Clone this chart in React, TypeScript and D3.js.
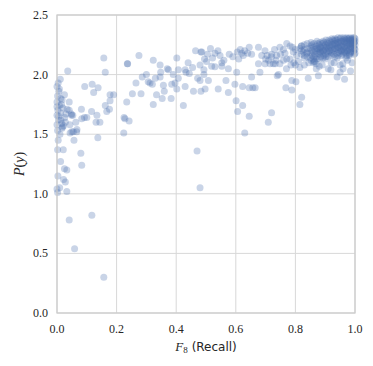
import React from "react";
import * as d3 from "d3";

const xTicks = [0, 0.2, 0.4, 0.6, 0.8, 1.0];
const yTicks = [0, 0.5, 1.0, 1.5, 2.0, 2.5];

const outlierPts: [number, number][] = [
  [0.157, 0.30], [0.059, 0.54], [0.041, 0.78], [0.117, 0.82], [0.47, 1.36], [0.48, 1.05], [0.63, 1.51],
];

const leftPts: [number, number][] = [
  [0.137, 1.47], [0.057, 1.45], [0.08, 1.34], [0.083, 1.24], [0.021, 1.37], [0.002, 1.37], [0.012, 1.27],
  [0.025, 1.21], [0.033, 1.20], [0.003, 1.15], [0.022, 1.12], [0.028, 1.10], [0.009, 1.05], [0.033, 1.02],
  [0.002, 1.01], [0.224, 1.51], [0.242, 1.61], [0.225, 1.64],
  [0.093, 1.90], [0.118, 1.92], [0.138, 1.89], [0.123, 1.85], [0.178, 1.83], [0.19, 1.83], [0.162, 1.74],
  [0.178, 1.78], [0.176, 1.71], [0.167, 1.69], [0.134, 1.66], [0.144, 1.60], [0.131, 1.60], [0.116, 1.69],
  [0.10, 1.64], [0.083, 1.63], [0.092, 1.64], [0.082, 1.71], [0.063, 1.60], [0.041, 1.70], [0.049, 1.66],
  [0.053, 1.66], [0.066, 1.52], [0.055, 1.52], [0.044, 1.51], [0.018, 1.56], [0.016, 1.59],
  [0.157, 2.14], [0.162, 2.02], [0.036, 2.03], [0.236, 2.09], [0.011, 1.96], [0.004, 1.93], [0.025, 1.83],
  [0.006, 1.86], [0.041, 1.77], [0.017, 1.79], [0.034, 1.71], [0.048, 1.67], [0.012, 1.68], [0.008, 1.74],
  [0.002, 1.82], [0.026, 1.64], [0.017, 1.55], [0.043, 1.58], [0.022, 1.57], [0.05, 1.52], [0.067, 1.54],
  [0.006, 1.65], [0.0, 1.73], [0.003, 1.70], [0.005, 1.62], [0.0, 1.58], [0.01, 1.50], [0.004, 1.45],
  [0.0, 1.90], [0.008, 1.88], [0.0, 1.77], [0.015, 1.75], [0.02, 1.72], [0.013, 1.62], [0.028, 1.60],
  [0.03, 1.67], [0.002, 1.53], [0.012, 1.80], [0.0, 1.66], [0.0, 1.04],
];

const midPts: [number, number][] = [
  [0.275, 2.16], [0.237, 2.09], [0.323, 2.12], [0.346, 2.08], [0.402, 2.14], [0.465, 2.20], [0.483, 2.19],
  [0.48, 2.08], [0.43, 2.04], [0.407, 2.04], [0.374, 2.04], [0.348, 2.02], [0.433, 2.02], [0.444, 2.01],
  [0.472, 1.97], [0.493, 2.00], [0.407, 1.97], [0.286, 1.98], [0.306, 1.94], [0.312, 1.93], [0.32, 1.92],
  [0.346, 1.98], [0.357, 1.91], [0.385, 1.92], [0.396, 1.93], [0.402, 1.88], [0.458, 1.86], [0.483, 1.86],
  [0.253, 1.84], [0.282, 1.84], [0.334, 1.83], [0.353, 1.80], [0.383, 1.80], [0.323, 1.75], [0.424, 1.74],
  [0.234, 1.77], [0.228, 1.63],
  [0.645, 2.23], [0.676, 2.23], [0.698, 2.20], [0.72, 2.17], [0.62, 2.18], [0.625, 2.16], [0.653, 2.17],
  [0.687, 2.16], [0.578, 2.17], [0.59, 2.15], [0.53, 2.18], [0.547, 2.16], [0.522, 2.14], [0.486, 2.19],
  [0.502, 2.11], [0.553, 2.10], [0.519, 2.07], [0.53, 2.065], [0.553, 2.07], [0.575, 2.05], [0.493, 2.04],
  [0.603, 2.02], [0.676, 2.09], [0.698, 2.09], [0.715, 2.09], [0.732, 2.09], [0.681, 2.02], [0.653, 1.98],
  [0.623, 1.90], [0.645, 1.89], [0.657, 1.89], [0.665, 1.89], [0.597, 1.92], [0.575, 1.85], [0.567, 1.95],
  [0.541, 1.88], [0.508, 1.95], [0.497, 1.88], [0.48, 1.95], [0.601, 1.78], [0.623, 1.74], [0.606, 1.69],
  [0.645, 1.65], [0.72, 1.68], [0.709, 1.60], [0.743, 2.00],
  [0.605, 2.19], [0.615, 2.21], [0.63, 2.20], [0.64, 2.18], [0.61, 2.13], [0.56, 2.12], [0.515, 2.22],
  [0.505, 2.17], [0.54, 2.20], [0.495, 2.13], [0.455, 2.06], [0.44, 2.10], [0.37, 2.05], [0.30, 2.00],
  [0.265, 1.93], [0.33, 1.97], [0.36, 1.86], [0.43, 1.90], [0.39, 2.00],
];

const rightBandPts: [number, number][] = [
  [0.739, 1.99], [0.768, 1.89], [0.788, 1.87], [0.788, 1.95], [0.802, 1.94], [0.843, 1.97], [0.877, 1.99],
  [0.919, 2.04], [0.95, 2.02], [0.959, 2.09], [0.821, 1.81], [0.815, 1.75], [0.86, 2.10], [0.869, 2.09],
  [0.88, 2.07], [0.865, 2.11], [0.97, 2.14], [0.981, 2.16],
  [0.748, 2.23], [0.771, 2.26], [0.782, 2.24], [0.76, 2.21], [0.737, 2.16], [0.72, 2.15], [0.726, 2.09],
  [0.748, 2.09], [0.771, 2.13], [0.782, 2.13], [0.793, 2.19], [0.804, 2.16], [0.815, 2.22], [0.826, 2.19],
  [0.81, 2.11], [0.76, 2.12], [0.795, 2.10], [0.83, 2.14], [0.84, 2.22], [0.838, 2.18], [0.75, 2.17],
  [0.765, 2.18], [0.735, 2.12], [0.79, 2.23], [0.80, 2.21], [0.82, 2.24], [0.73, 2.21], [0.71, 2.12],
  [0.70, 2.13], [0.705, 2.16], [0.77, 2.05], [0.785, 2.08], [0.80, 2.08], [0.815, 2.06], [0.83, 2.08],
  [0.845, 2.10],
];

const densePts: [number, number][] = [
  [0.85, 2.22], [0.85, 2.18], [0.85, 2.14], [0.855, 2.20], [0.855, 2.16], [0.855, 2.25],
  [0.86, 2.23], [0.86, 2.19], [0.86, 2.13], [0.865, 2.21], [0.865, 2.17],
  [0.87, 2.24], [0.87, 2.20], [0.87, 2.15], [0.875, 2.22], [0.875, 2.18], [0.875, 2.26],
  [0.88, 2.25], [0.88, 2.21], [0.88, 2.17], [0.88, 2.13], [0.885, 2.23], [0.885, 2.19], [0.885, 2.15],
  [0.89, 2.26], [0.89, 2.22], [0.89, 2.18], [0.895, 2.24], [0.895, 2.20], [0.895, 2.16], [0.895, 2.27],
  [0.90, 2.25], [0.90, 2.21], [0.90, 2.17], [0.90, 2.13], [0.905, 2.27], [0.905, 2.23], [0.905, 2.19],
  [0.91, 2.26], [0.91, 2.22], [0.91, 2.18], [0.91, 2.15], [0.915, 2.28], [0.915, 2.24], [0.915, 2.20],
  [0.92, 2.27], [0.92, 2.23], [0.92, 2.19], [0.92, 2.16], [0.925, 2.25], [0.925, 2.21], [0.925, 2.29],
  [0.93, 2.28], [0.93, 2.24], [0.93, 2.20], [0.93, 2.17], [0.935, 2.26], [0.935, 2.22], [0.935, 2.29],
  [0.94, 2.29], [0.94, 2.25], [0.94, 2.21], [0.94, 2.18], [0.94, 2.14], [0.945, 2.27], [0.945, 2.23], [0.945, 2.19],
  [0.95, 2.30], [0.95, 2.26], [0.95, 2.22], [0.95, 2.18], [0.955, 2.28], [0.955, 2.24], [0.955, 2.20], [0.955, 2.16],
  [0.96, 2.29], [0.96, 2.25], [0.96, 2.21], [0.96, 2.17], [0.965, 2.30], [0.965, 2.27], [0.965, 2.23], [0.965, 2.19],
  [0.97, 2.29], [0.97, 2.26], [0.97, 2.22], [0.97, 2.18], [0.975, 2.30], [0.975, 2.27], [0.975, 2.24], [0.975, 2.20],
  [0.98, 2.30], [0.98, 2.28], [0.98, 2.25], [0.98, 2.21], [0.98, 2.17], [0.985, 2.29], [0.985, 2.26], [0.985, 2.23], [0.985, 2.19],
  [0.99, 2.30], [0.99, 2.28], [0.99, 2.25], [0.99, 2.22], [0.995, 2.29], [0.995, 2.27], [0.995, 2.24], [0.995, 2.20],
  [1.0, 2.30], [1.0, 2.28], [1.0, 2.25], [1.0, 2.21], [1.0, 2.18],
  [0.89, 2.08], [0.91, 2.05], [0.93, 2.10], [0.95, 2.08], [0.96, 2.05], [0.975, 2.12], [0.99, 2.10],
  [0.985, 2.03], [0.94, 1.98], [0.965, 1.96], [0.92, 2.10], [0.87, 2.05],
];

const densePts2: [number, number][] = [
  [0.82, 2.24], [0.82, 2.20], [0.82, 2.17], [0.83, 2.25], [0.83, 2.21], [0.83, 2.16],
  [0.84, 2.26], [0.84, 2.19], [0.84, 2.15], [0.8525, 2.27], [0.8525, 2.24], [0.8525, 2.12],
  [0.8625, 2.26], [0.8625, 2.15], [0.8625, 2.11], [0.8725, 2.28], [0.8725, 2.13], [0.8725, 2.22],
  [0.8825, 2.27], [0.8825, 2.19], [0.8825, 2.23], [0.8925, 2.28], [0.8925, 2.20], [0.8925, 2.14],
  [0.9025, 2.29], [0.9025, 2.23], [0.9025, 2.15], [0.9125, 2.29], [0.9125, 2.24], [0.9125, 2.20],
  [0.9225, 2.30], [0.9225, 2.25], [0.9225, 2.18], [0.9325, 2.30], [0.9325, 2.26], [0.9325, 2.22], [0.9325, 2.15],
  [0.9425, 2.31], [0.9425, 2.27], [0.9425, 2.23], [0.9425, 2.16], [0.9525, 2.31], [0.9525, 2.28], [0.9525, 2.24], [0.9525, 2.20],
  [0.9625, 2.31], [0.9625, 2.28], [0.9625, 2.23], [0.9625, 2.19], [0.9725, 2.31], [0.9725, 2.28], [0.9725, 2.24], [0.9725, 2.20], [0.9725, 2.16],
  [0.9825, 2.31], [0.9825, 2.29], [0.9825, 2.26], [0.9825, 2.22], [0.9825, 2.18],
  [0.9925, 2.31], [0.9925, 2.29], [0.9925, 2.26], [0.9925, 2.23], [0.9925, 2.19],
  [0.9975, 2.31], [0.9975, 2.27], [0.9975, 2.22], [0.9975, 2.17],
];

const allPts = [...outlierPts, ...leftPts, ...midPts, ...rightBandPts, ...densePts, ...densePts2];

const SERIF = "'Liberation Serif', 'Times New Roman', Tinos, 'DejaVu Serif', 'Noto Serif', serif";
const SANS = "'DejaVu Sans', 'Liberation Sans', sans-serif";

export default function App() {
  const W = 373, H = 366;
  const L = 57, R = 355, T = 15, B = 313;
  const x = d3.scaleLinear().domain([0, 1]).range([L, R]);
  const y = d3.scaleLinear().domain([0, 2.5]).range([B, T]);
  const grid = "#d8d8d8";
  return (
    <svg width={W} height={H} style={{ position: "absolute", left: 0, top: 0, background: "#fff" }}>
      <g>
        {xTicks.map((t) => (
          <line key={"gx" + t} x1={x(t)} x2={x(t)} y1={T} y2={B} stroke={grid} strokeWidth={1} />
        ))}
        {yTicks.map((t) => (
          <line key={"gy" + t} x1={L} x2={R} y1={y(t)} y2={y(t)} stroke={grid} strokeWidth={1} />
        ))}
      </g>
      <g>
        {allPts.map((p, i) => (
          <circle key={i} cx={x(p[0])} cy={y(p[1])} r={3.5} fill="#4c72b0" fillOpacity={0.3} />
        ))}
      </g>
      <rect x={L} y={T} width={R - L} height={B - T} fill="none" stroke="#cccccc" strokeWidth={1.25} />
      <g style={{ fontFamily: SERIF, fontSize: "12px" }} fill="#262626">
        {xTicks.map((t) => (
          <text key={"tx" + t} x={x(t)} y={B + 20} textAnchor="middle" style={{ fontFamily: SERIF }}>{d3.format(".1f")(t)}</text>
        ))}
        {yTicks.map((t) => (
          <text key={"ty" + t} x={L - 9} y={y(t) + 4} textAnchor="end" style={{ fontFamily: SERIF }}>{d3.format(".1f")(t)}</text>
        ))}
      </g>
      <text x={206} y={351} textAnchor="middle" fill="#262626" style={{ fontSize: "13px" }}>
        <tspan style={{ fontFamily: SERIF, fontStyle: "italic" }}>F</tspan>
        <tspan style={{ fontFamily: SERIF, fontSize: "9px" }} dy={2}>8</tspan>
        <tspan style={{ fontFamily: SANS, fontSize: "12px" }} dy={-2} dx={4}>(Recall)</tspan>
      </text>
      <text transform={`translate(24,${(T + B) / 2}) rotate(-90)`} textAnchor="middle" fill="#262626" style={{ fontSize: "14px", fontFamily: SERIF }}>
        <tspan style={{ fontStyle: "italic" }}>P</tspan>
        <tspan>(</tspan>
        <tspan style={{ fontStyle: "italic" }}>y</tspan>
        <tspan>)</tspan>
      </text>
    </svg>
  );
}
